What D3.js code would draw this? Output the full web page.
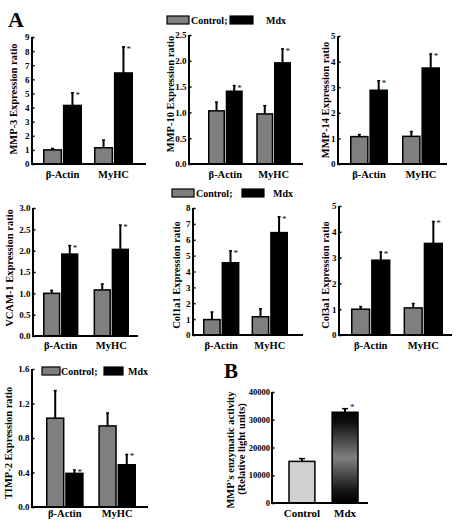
<!DOCTYPE html>
<html><head><meta charset="utf-8">
<script src="https://cdn.jsdelivr.net/npm/d3@7"></script>
<style>
html,body{margin:0;padding:0;background:#fff;}
</style></head>
<body>
<svg id="c" width="458" height="522"></svg>
<script>
// ---------- data ----------
const groups = ["β-Actin", "MyHC"];
const seriesNames = ["Control;", "Mdx"];

const mmp3Control = [1.0, 1.15],  mmp3ControlErr = [0.1, 0.55];
const mmp3Mdx     = [4.15, 6.45], mmp3MdxErr     = [0.9, 1.85];
const mmp3Ticks   = [0,1,2,3,4,5,6,7,8,9];

const mmp10Control = [1.03, 0.97], mmp10ControlErr = [0.17, 0.16];
const mmp10Mdx     = [1.41, 1.96], mmp10MdxErr     = [0.11, 0.27];
const mmp10Ticks   = [0,0.5,1.0,1.5,2.0,2.5];

const mmp14Control = [1.07, 1.08], mmp14ControlErr = [0.08, 0.19];
const mmp14Mdx     = [2.88, 3.75], mmp14MdxErr     = [0.37, 0.55];
const mmp14Ticks   = [0,1,2,3,4,5];

const vcamControl = [1.0, 1.08], vcamControlErr = [0.07, 0.14];
const vcamMdx     = [1.92, 2.03], vcamMdxErr    = [0.2, 0.57];
const vcamTicks   = [0,0.5,1.0,1.5,2.0,2.5,3.0];

const col1Control = [0.97, 1.15], col1ControlErr = [0.48, 0.5];
const col1Mdx     = [4.55, 6.45], col1MdxErr     = [0.75, 1.0];
const col1Ticks   = [0,1,2,3,4,5,6,7,8];

const col3Control = [1.0, 1.05], col3ControlErr = [0.1, 0.17];
const col3Mdx     = [2.9, 3.55], col3MdxErr     = [0.32, 0.85];
const col3Ticks   = [0,1,2,3,4,5];

const timpControl = [1.03, 0.94], timpControlErr = [0.32, 0.15];
const timpMdx     = [0.39, 0.49], timpMdxErr     = [0.04, 0.12];
const timpTicks   = [0,0.4,0.8,1.2,1.6];

const bCategories = ["Control", "Mdx"];
const bValues     = [15000, 32700];
const bErr        = [1000, 1300];
const bTicks      = [0,10000,20000,30000,40000];

// ---------- drawing ----------
const FONT = '"Liberation Serif","Times New Roman",Times,serif';
const svg = d3.select("#c");
const defs = svg.append("defs");
const grad = defs.append("linearGradient").attr("id","mdxGrad").attr("x1",0).attr("x2",0).attr("y1",0).attr("y2",1);
grad.append("stop").attr("offset","0%").attr("stop-color","#000");
grad.append("stop").attr("offset","12%").attr("stop-color","#111");
grad.append("stop").attr("offset","50%").attr("stop-color","#808080");
grad.append("stop").attr("offset","88%").attr("stop-color","#111");
grad.append("stop").attr("offset","100%").attr("stop-color","#000");

const CTRL = "#7f7f7f", MDX = "#000";

function drawPanel(p) {
  const g = svg.append("g");
  const y = d3.scaleLinear().domain([0, p.max]).range([p.yBot, p.yTop]);
  const x = d3.scaleBand().domain(groups).range(p.barRange).paddingInner(p.padIn).paddingOuter(0);
  const xi = d3.scaleBand().domain([0,1]).range([0, x.bandwidth()]).paddingInner(0.04);

  const ya = g.append("g").attr("transform", `translate(${p.axisX},0)`)
    .call(d3.axisLeft(y).tickValues(p.ticks).tickSize(-2.5).tickPadding(2.5).tickFormat(p.fmt));
  ya.select(".domain").attr("stroke-width", 2).attr("d", `M0,${p.yTop}V${p.yBot}`);
  ya.selectAll(".tick line").attr("stroke-width", 1.5);
  ya.selectAll(".tick text").style("font-size","9px");

  const series = [
    {vals: p.ctrl, errs: p.ctrlErr, fill: CTRL, idx: 0, star: false},
    {vals: p.mdx,  errs: p.mdxErr,  fill: MDX,  idx: 1, star: true}
  ];
  series.forEach(s => {
    groups.forEach((gname, i) => {
      const bx = x(gname) + xi(s.idx), bw = xi.bandwidth();
      const top = y(s.vals[i]), etop = y(s.vals[i] + s.errs[i]);
      const cx = bx + bw / 2;
      g.append("line").attr("x1",cx).attr("x2",cx).attr("y1",top).attr("y2",etop)
        .attr("stroke","#000").attr("stroke-width",2);
      g.append("line").attr("x1",cx-1.5).attr("x2",cx+1.5).attr("y1",etop).attr("y2",etop)
        .attr("stroke","#000").attr("stroke-width",1.5);
      g.append("rect").attr("x",bx+0.75).attr("y",top).attr("width",bw-1.5).attr("height",p.yBot-top)
        .attr("fill", s.fill).attr("stroke","#000").attr("stroke-width",1.5);
      if (s.star) {
        g.append("text").attr("class","star").attr("x", cx + 3).attr("y", etop + 5).text("*")
          .style("font-size","9px");
      }
    });
  });

  g.append("line").attr("x1",p.axisX-1).attr("x2",p.xEnd).attr("y1",p.yBot).attr("y2",p.yBot)
    .attr("stroke","#000").attr("stroke-width",2);
  groups.forEach(gname => {
    g.append("text").attr("x", x(gname) + x.bandwidth()/2).attr("y", p.labelY)
      .attr("text-anchor","middle").style("font-size","10.5px").text(gname);
  });

  g.append("text").attr("transform", `translate(${p.titleX},${p.titleY}) rotate(-90)`)
    .attr("text-anchor","middle").style("font-size","10.5px").text(p.title);
}

function legend(l) {
  const g = svg.append("g");
  g.append("rect").attr("x",l.x1).attr("y",l.y-4).attr("width",l.w1).attr("height",8)
    .attr("fill",CTRL).attr("stroke","#000").attr("stroke-width",1.2);
  g.append("text").attr("x",l.t1).attr("y",l.y+3.5).style("font-size","10px").text(seriesNames[0]);
  g.append("rect").attr("x",l.x2).attr("y",l.y-4).attr("width",l.w2).attr("height",8)
    .attr("fill",MDX).attr("stroke","#000").attr("stroke-width",1.2);
  g.append("text").attr("x",l.t2).attr("y",l.y+3.5).style("font-size","10px").text(seriesNames[1]);
}

const fmt1 = d3.format(".1f"), fmt0 = d3.format("d");

drawPanel({title:"MMP-3 Expression ratio", ctrl:mmp3Control, ctrlErr:mmp3ControlErr, mdx:mmp3Mdx, mdxErr:mmp3MdxErr,
  ticks:mmp3Ticks, max:9, fmt:fmt0, axisX:32, yTop:37, yBot:164, xEnd:146, barRange:[43,133], padIn:0.235,
  labelY:178, titleX:17, titleY:99});
drawPanel({title:"MMP-10 Expression ratio", ctrl:mmp10Control, ctrlErr:mmp10ControlErr, mdx:mmp10Mdx, mdxErr:mmp10MdxErr,
  ticks:mmp10Ticks, max:2.5, fmt:fmt1, axisX:189, yTop:35, yBot:164, xEnd:303, barRange:[208,291], padIn:0.28,
  labelY:178, titleX:174, titleY:94});
drawPanel({title:"MMP-14 Expression ratio", ctrl:mmp14Control, ctrlErr:mmp14ControlErr, mdx:mmp14Mdx, mdxErr:mmp14MdxErr,
  ticks:mmp14Ticks, max:5, fmt:fmt0, axisX:338, yTop:36, yBot:164, xEnd:447, barRange:[350,440], padIn:0.27,
  labelY:178, titleX:329, titleY:100});
drawPanel({title:"VCAM-1 Expression ratio", ctrl:vcamControl, ctrlErr:vcamControlErr, mdx:vcamMdx, mdxErr:vcamMdxErr,
  ticks:vcamTicks, max:3, fmt:fmt1, axisX:33, yTop:208, yBot:336, xEnd:138, barRange:[43,129], padIn:0.3,
  labelY:349, titleX:13, titleY:268});
drawPanel({title:"Col1a1 Expression ratio", ctrl:col1Control, ctrlErr:col1ControlErr, mdx:col1Mdx, mdxErr:col1MdxErr,
  ticks:col1Ticks, max:8, fmt:fmt0, axisX:193, yTop:208, yBot:335, xEnd:303, barRange:[203,288], padIn:0.25,
  labelY:349, titleX:180, titleY:275});
drawPanel({title:"Col3a1 Expression ratio", ctrl:col3Control, ctrlErr:col3ControlErr, mdx:col3Mdx, mdxErr:col3MdxErr,
  ticks:col3Ticks, max:5, fmt:fmt0, axisX:339, yTop:206, yBot:335, xEnd:452, barRange:[351,443], padIn:0.25,
  labelY:349, titleX:329, titleY:275});
drawPanel({title:"TIMP-2 Expression ratio", ctrl:timpControl, ctrlErr:timpControlErr, mdx:timpMdx, mdxErr:timpMdxErr,
  ticks:timpTicks, max:1.6, fmt:fmt1, axisX:32, yTop:369, yBot:507, xEnd:148, barRange:[46,136], padIn:0.28,
  labelY:517, titleX:12, titleY:443});

legend({y:20, x1:167, w1:22, t1:191, x2:230, w2:23, t2:266});
legend({y:193, x1:172, w1:22, t1:196, x2:242, w2:22, t2:273});
legend({y:371, x1:42, w1:18, t1:61, x2:104, w2:19, t2:128});

// Panel B
(function(){
  const g = svg.append("g");
  const yTop = 392, yBot = 503, axisX = 272, xEnd = 368;
  const y = d3.scaleLinear().domain([0, 40000]).range([yBot, yTop]);
  const x = d3.scaleBand().domain(bCategories).range([289, 358]).paddingInner(0.4).paddingOuter(0);
  const ya = g.append("g").attr("transform",`translate(${axisX},0)`)
    .call(d3.axisLeft(y).tickValues(bTicks).tickSize(-2.5).tickPadding(2).tickFormat(fmt0));
  ya.select(".domain").attr("stroke-width",2).attr("d",`M0,${yTop}V${yBot}`);
  ya.selectAll(".tick line").attr("stroke-width", 1.5);
  ya.selectAll(".tick text").style("font-size","8.5px");
  bCategories.forEach((c,i) => {
    const bx = x(c), bw = x.bandwidth(), top = y(bValues[i]), et = y(bValues[i]+bErr[i]), cx = bx+bw/2;
    g.append("line").attr("x1",cx).attr("x2",cx).attr("y1",top).attr("y2",et).attr("stroke","#000").attr("stroke-width",2);
    g.append("line").attr("x1",cx-3).attr("x2",cx+3).attr("y1",et).attr("y2",et).attr("stroke","#000").attr("stroke-width",1.5);
    g.append("rect").attr("x",bx).attr("y",top).attr("width",bw).attr("height",yBot-top)
      .attr("fill", i===0 ? "#d0d0d0" : "url(#mdxGrad)").attr("stroke","#000").attr("stroke-width",1.5);
    if (i===1) g.append("text").attr("class","star").attr("x",cx+5).attr("y",et+1).text("*").style("font-size","9px");
    g.append("text").attr("x",cx).attr("y",517).attr("text-anchor","middle").style("font-size","11px").text(c);
  });
  g.append("line").attr("x1",axisX-1).attr("x2",xEnd).attr("y1",yBot).attr("y2",yBot).attr("stroke","#000").attr("stroke-width",2);
  g.append("text").attr("transform","translate(234,450) rotate(-90)").attr("text-anchor","middle").style("font-size","10.5px").text("MMP's enzymatic activity");
  g.append("text").attr("transform","translate(245,449) rotate(-90)").attr("text-anchor","middle").style("font-size","10.5px").text("(Relative light units)");
})();

svg.append("text").attr("x",8).attr("y",27).style("font-size","22px").text("A");
svg.append("text").attr("x",224).attr("y",378).style("font-size","21px").text("B");

svg.selectAll("text").style("font-family", FONT).style("fill","#000").style("font-weight","bold");
svg.selectAll("text.star").style("font-weight","normal");
</script>
</body></html>
